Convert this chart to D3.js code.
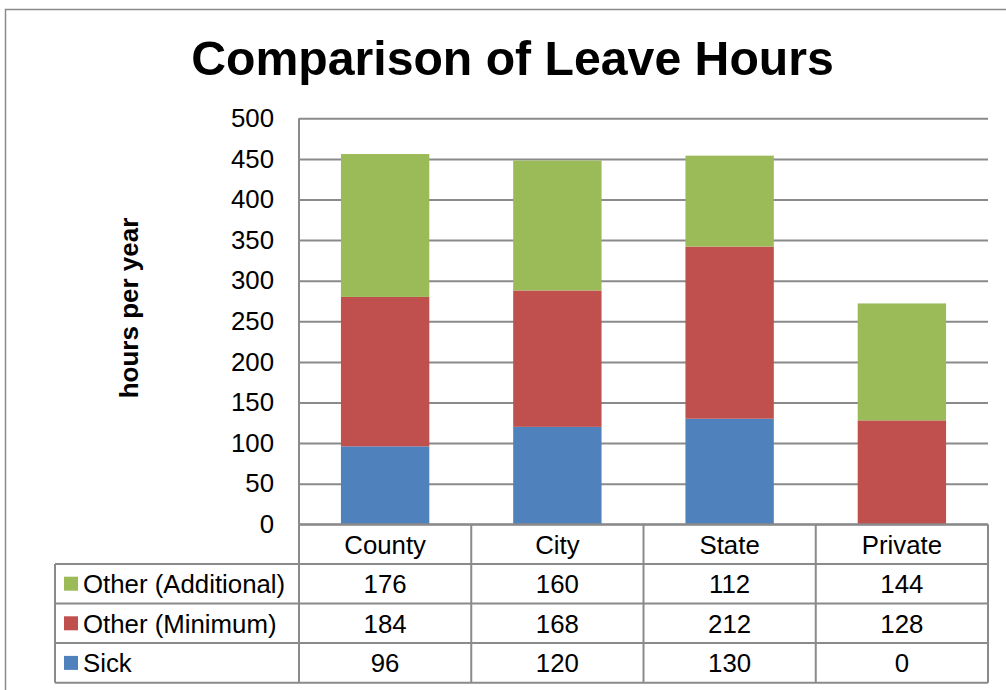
<!DOCTYPE html>
<html>
<head>
<meta charset="utf-8">
<script src="https://cdn.jsdelivr.net/npm/d3@7"></script>
<style>
  html, body { margin: 0; padding: 0; background: #ffffff; }
  svg { display: block; font-family: "Liberation Sans", Arial, sans-serif; }
</style>
</head>
<body>
<svg id="chart" width="1006" height="690"></svg>
<script>
// Leave hours per year by employer type
const categories = ["County", "City", "State", "Private"];
const seriesNames = ["Sick", "Other (Minimum)", "Other (Additional)"];
const sick = [96, 120, 130, 0];
const otherMinimum = [184, 168, 212, 128];
const otherAdditional = [176, 160, 112, 144];
const yTicks = [0, 50, 100, 150, 200, 250, 300, 350, 400, 450, 500];
const seriesColors = ["#4F81BD", "#C0504D", "#9BBB59"];

const rows = categories.map((c, i) => ({
  category: c,
  "Sick": sick[i],
  "Other (Minimum)": otherMinimum[i],
  "Other (Additional)": otherAdditional[i]
}));

const svg = d3.select("#chart");
const gridColor = "#8A8A8A";
const fontSize = 25.8;

// outer chart border
svg.append("rect")
  .attr("x", 5.5).attr("y", 9.5)
  .attr("width", 1010).attr("height", 700)
  .attr("fill", "#fff")
  .attr("stroke", "#8A8A8A").attr("stroke-width", 1.5);

// plot area
const plot = { left: 299, right: 988, top: 118.3, bottom: 524.3 };

const x = d3.scaleBand()
  .domain(categories)
  .range([plot.left, plot.right])
  .paddingInner(0.487)
  .paddingOuter(0.2435);

const y = d3.scaleLinear()
  .domain([0, 500])
  .range([plot.bottom, plot.top]);

// title
svg.append("text")
  .attr("x", 512.5).attr("y", 75)
  .attr("text-anchor", "middle")
  .attr("font-weight", "bold")
  .attr("font-size", 48.2)
  .attr("fill", "#000")
  .text("Comparison of Leave Hours");

// horizontal gridlines
const grid = svg.append("g")
  .attr("transform", `translate(${plot.left},0)`)
  .call(d3.axisLeft(y).tickValues(yTicks).tickSize(-(plot.right - plot.left)).tickFormat(""));
grid.select(".domain").remove();
grid.selectAll(".tick line").attr("stroke", gridColor).attr("stroke-width", 2);

// y tick labels
const yAxis = svg.append("g")
  .attr("transform", `translate(${plot.left},0)`)
  .call(d3.axisLeft(y).tickValues(yTicks).tickSize(0).tickPadding(25));
yAxis.select(".domain").remove();
yAxis.selectAll(".tick text")
  .attr("font-size", fontSize)
  .attr("font-family", "Liberation Sans, Arial, sans-serif")
  .attr("fill", "#000");

// y axis title
svg.append("text")
  .attr("transform", `translate(138,308) rotate(-90)`)
  .attr("text-anchor", "middle")
  .attr("font-weight", "bold")
  .attr("font-size", 26)
  .attr("fill", "#000")
  .text("hours per year");

// stacked bars
const stacked = d3.stack().keys(seriesNames)(rows);
svg.append("g")
  .selectAll("g")
  .data(stacked)
  .join("g")
  .attr("fill", (d, i) => seriesColors[i])
  .selectAll("rect")
  .data(d => d)
  .join("rect")
  .attr("x", d => x(d.data.category))
  .attr("width", x.bandwidth())
  .attr("y", d => y(d[1]))
  .attr("height", d => y(d[0]) - y(d[1]));

// vertical axis line
svg.append("line")
  .attr("x1", plot.left).attr("x2", plot.left)
  .attr("y1", plot.top).attr("y2", plot.bottom)
  .attr("stroke", gridColor).attr("stroke-width", 2);

// data table below the plot
const tableLeft = 55;
const rowH = 39.6;
const headerTop = plot.bottom;
const tableRowsOrder = [
  { name: "Other (Additional)", values: otherAdditional, color: seriesColors[2] },
  { name: "Other (Minimum)", values: otherMinimum, color: seriesColors[1] },
  { name: "Sick", values: sick, color: seriesColors[0] }
];
const tableBottom = headerTop + rowH * (tableRowsOrder.length + 1);
const colEdges = categories.map(c => x(c) - x.step() * x.paddingOuter()).concat([plot.right]);

const tbl = svg.append("g").attr("stroke", gridColor).attr("stroke-width", 2);

// header row lines
tbl.append("line")
  .attr("x1", plot.left).attr("x2", plot.right)
  .attr("y1", headerTop).attr("y2", headerTop);
// body horizontal lines
d3.range(tableRowsOrder.length + 1).forEach(i => {
  const yy = headerTop + rowH * (i + 1);
  tbl.append("line")
    .attr("x1", tableLeft).attr("x2", plot.right)
    .attr("y1", yy).attr("y2", yy);
});
// vertical lines
colEdges.forEach(cx => {
  tbl.append("line")
    .attr("x1", cx).attr("x2", cx)
    .attr("y1", headerTop).attr("y2", tableBottom);
});
tbl.append("line")
  .attr("x1", tableLeft).attr("x2", tableLeft)
  .attr("y1", headerTop + rowH).attr("y2", tableBottom);

// category headers
svg.append("g")
  .selectAll("text")
  .data(categories)
  .join("text")
  .attr("x", d => x(d) + x.bandwidth() / 2)
  .attr("y", headerTop + rowH / 2 + 9.5)
  .attr("text-anchor", "middle")
  .attr("font-size", fontSize)
  .attr("fill", "#000")
  .text(d => d);

// body rows: legend key, series name, values
tableRowsOrder.forEach((r, i) => {
  const top = headerTop + rowH * (i + 1);
  const g = svg.append("g");
  g.append("rect")
    .attr("x", 64).attr("y", top + rowH / 2 - 7)
    .attr("width", 14).attr("height", 14)
    .attr("fill", r.color);
  g.append("text")
    .attr("x", 83).attr("y", top + rowH / 2 + 9.5)
    .attr("font-size", fontSize)
    .attr("fill", "#000")
    .text(r.name);
  g.selectAll("text.val")
    .data(r.values)
    .join("text")
    .attr("class", "val")
    .attr("x", (d, j) => x(categories[j]) + x.bandwidth() / 2)
    .attr("y", top + rowH / 2 + 9.5)
    .attr("text-anchor", "middle")
    .attr("font-size", fontSize)
    .attr("fill", "#000")
    .text(d => d);
});
</script>
</body>
</html>
